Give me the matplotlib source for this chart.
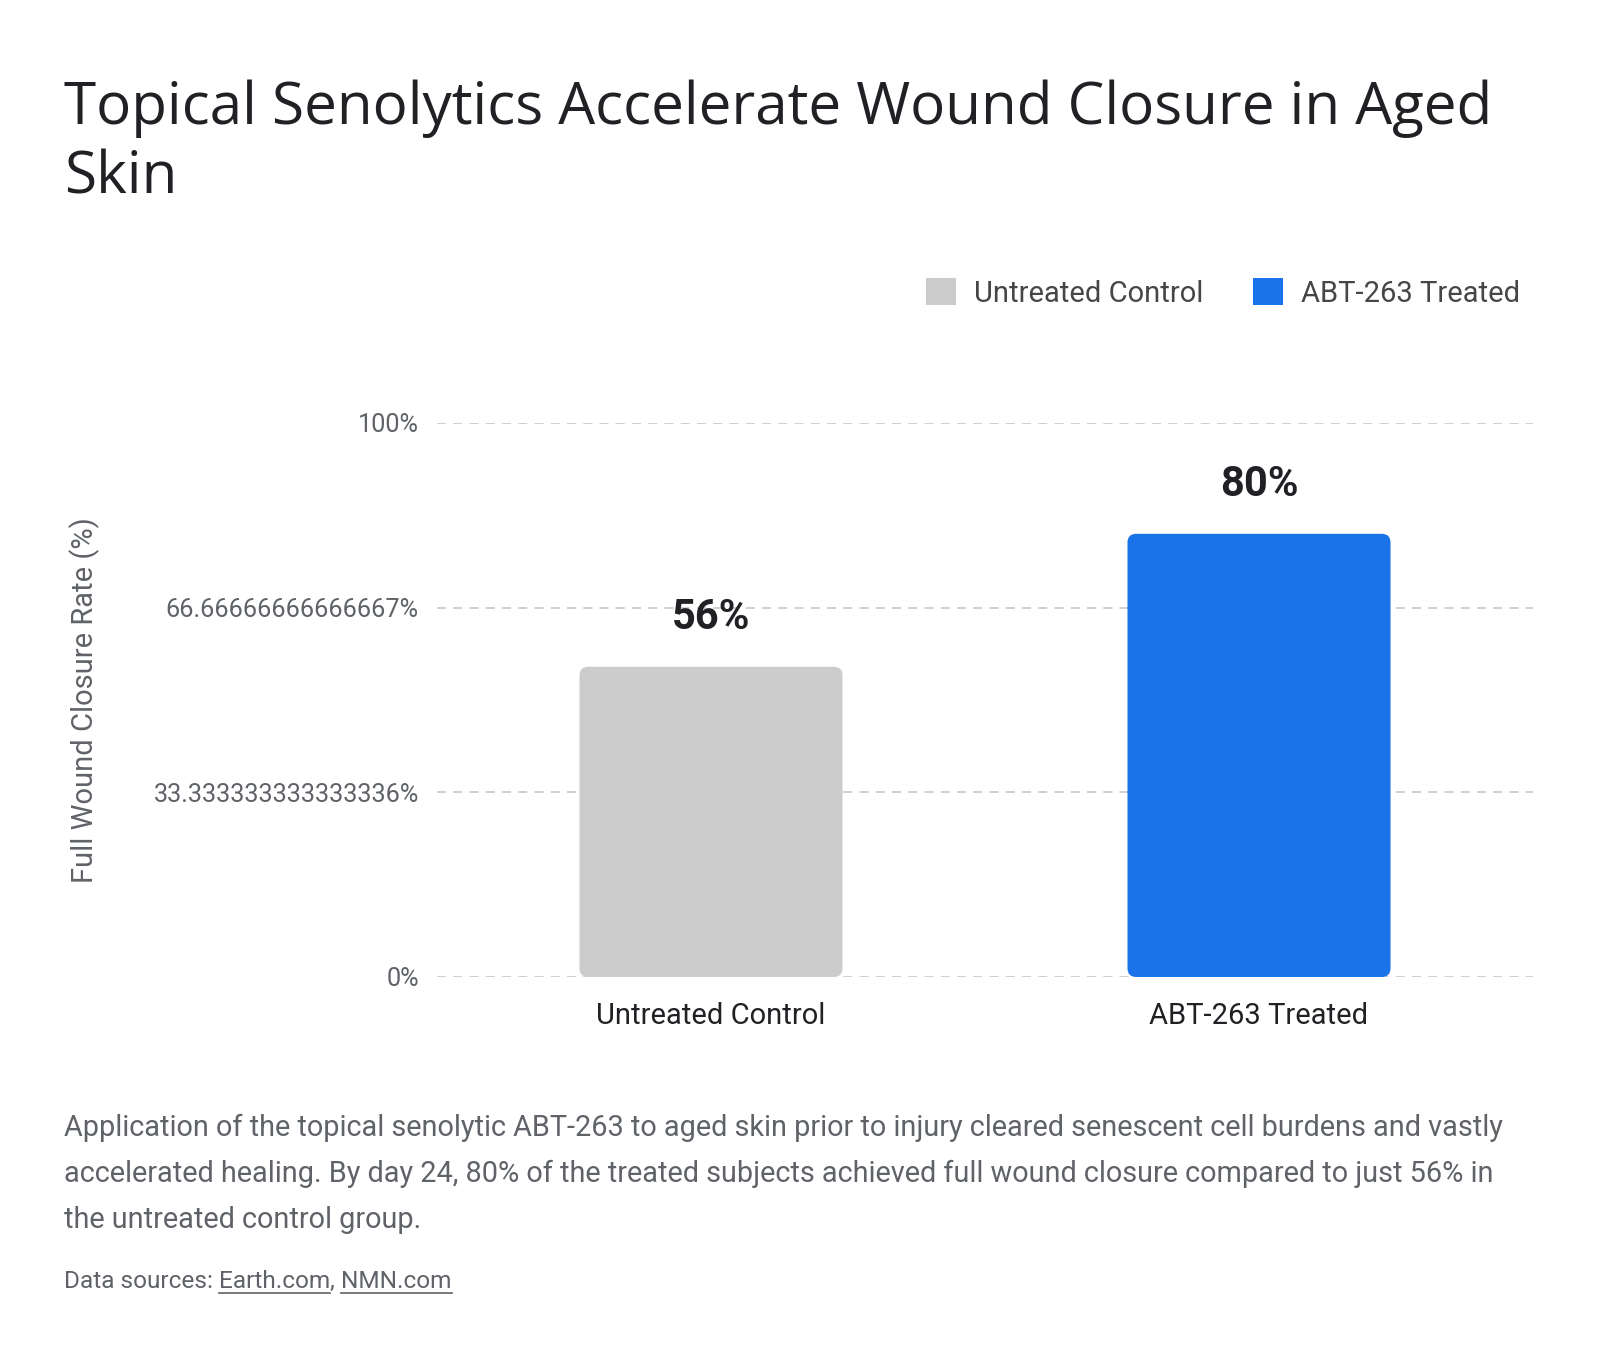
import matplotlib
matplotlib.use("Agg")
from matplotlib import pyplot as plt
from matplotlib.patches import FancyBboxPatch, Patch
from matplotlib.ticker import FixedLocator

categories = ["Untreated Control", "ABT-263 Treated"]
closure_rate = [56, 80]
value_labels = ["56%", "80%"]
bar_colors = ["#cccccc", "#1a73e8"]
y_ticks = [0, 100 / 3, 200 / 3, 100]
y_tick_labels = ["0%", "33.333333333333336%", "66.66666666666667%", "100%"]

title_lines = ["Topical Senolytics Accelerate Wound Closure in Aged", "Skin"]
caption_lines = [
    "Application of the topical senolytic ABT-263 to aged skin prior to injury cleared senescent cell burdens and vastly",
    "accelerated healing. By day 24, 80% of the treated subjects achieved full wound closure compared to just 56% in",
    "the untreated control group.",
]

W, H = 1600, 1360
GRAY = "#5f6368"


def fy(px):
    return 1 - px / H


def main():
    plt.rcParams["font.family"] = ["Roboto", "DejaVu Sans"]
    fig = plt.figure(figsize=(W / 100, H / 100), dpi=100)
    fig.patch.set_facecolor("white")
    ax = fig.add_axes([437 / W, fy(977), (1533 - 437) / W, (977 - 423) / H])

    xs = list(range(len(categories)))
    bars = ax.bar(xs, closure_rate, width=0.48, color=bar_colors)
    ax.set_xlim(-0.5, 1.5)
    ax.set_ylim(0, 100)

    # swap plain bars for rounded ones (same geometry)
    aspect = (1096 / 2) / (554 / 100)
    for b in bars:
        rp = FancyBboxPatch(
            (b.get_x(), b.get_y()), b.get_width(), b.get_height(),
            boxstyle="round,pad=0,rounding_size=0.016",
            mutation_aspect=aspect,
            facecolor=b.get_facecolor(), edgecolor="none", zorder=3,
        )
        ax.add_patch(rp)
        b.set_visible(False)

    for x, v, lab in zip(xs, closure_rate, value_labels):
        ax.annotate(lab, (x, v), xytext=(0, 21), textcoords="offset points",
                    ha="center", va="bottom", fontsize=30, fontweight="bold",
                    color="#202124")

    ax.yaxis.set_major_locator(FixedLocator(y_ticks))
    ax.set_yticklabels(y_tick_labels)
    ax.set_xticks(xs)
    ax.set_xticklabels(categories)
    ax.tick_params(axis="y", length=0, pad=13, labelsize=18.2, labelcolor=GRAY)
    ax.tick_params(axis="x", length=0, pad=18, labelsize=21, labelcolor="#202124")
    ax.grid(axis="y", color="#cccccc", linestyle=(0, (5, 4)), linewidth=1.3, zorder=0)
    ax.set_axisbelow(True)
    for s in ax.spines.values():
        s.set_visible(False)

    ax.set_ylabel("Full Wound Closure Rate (%)", fontsize=21, color=GRAY)
    ax.yaxis.set_label_coords((100 - 437) / 1096, 0.5)

    handles = [Patch(facecolor=c, edgecolor="none", label=n)
               for c, n in zip(bar_colors, categories)]
    fig.legend(handles=handles, loc="center right",
               bbox_to_anchor=(1520 / W, fy(293)), ncol=2, frameon=False,
               fontsize=21, handlelength=1.05, handleheight=1.05,
               handletextpad=0.6, columnspacing=1.7, borderpad=0,
               borderaxespad=0, labelcolor="#444746")

    for i, line in enumerate(title_lines):
        fig.text(64 / W, fy(124 + 69 * i), line, fontsize=42,
                 family=["Open Sans", "DejaVu Sans"], color="#202124",
                 va="baseline", ha="left")

    for i, line in enumerate(caption_lines):
        fig.text(64 / W, fy(1136 + 46 * i), line, fontsize=20.8, color=GRAY,
                 va="baseline", ha="left")

    # source line with underlined links
    fig.canvas.draw()
    r = fig.canvas.get_renderer()
    x = 64
    parts = [("Data sources: ", False), ("Earth.com", True), (", ", False), ("NMN.com", True)]
    for txt, link in parts:
        t = fig.text(x / W, fy(1288), txt, fontsize=17.6, color=GRAY,
                     va="baseline", ha="left")
        bb = t.get_window_extent(renderer=r)
        if link:
            fig.add_artist(plt.Line2D([bb.x0 / W, bb.x1 / W], [fy(1293), fy(1293)],
                                      transform=fig.transFigure, color=GRAY, lw=1.2))
        x += bb.width

    fig.savefig("out.png", dpi=100, facecolor="white")


if __name__ == "__main__":
    main()
